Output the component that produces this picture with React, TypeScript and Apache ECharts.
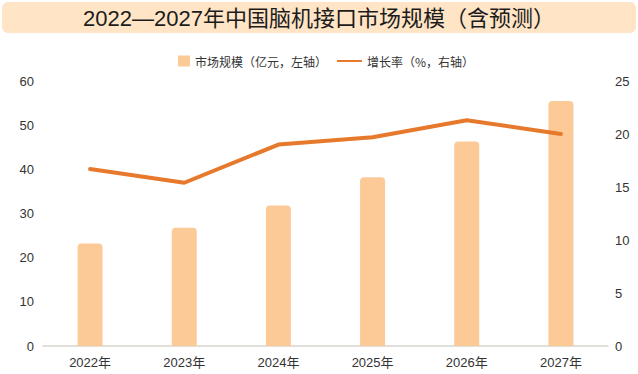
import React, { useEffect, useRef } from 'react';
import * as echarts from 'echarts';

const titleText = '2022—2027年中国脑机接口市场规模（含预测）';
const categories = ['2022年', '2023年', '2024年', '2025年', '2026年', '2027年'];
const seriesBarName = '市场规模（亿元，左轴）';
const seriesLineName = '增长率（%，右轴）';
const marketSize = [23.2, 26.8, 31.8, 38.2, 46.3, 55.5];
const growthRate = [16.7, 15.4, 19.0, 19.7, 21.3, 20.0];
const leftAxis = { min: 0, max: 60, interval: 10 };
const rightAxis = { min: 0, max: 25, interval: 5 };

const FONT = '"Liberation Sans", Arial, "Noto Sans CJK SC", sans-serif';
const CJK = '"Noto Sans CJK SC", "Liberation Sans", sans-serif';
const TITLE_FONT = '"Liberation Sans", "Noto Sans CJK TC", "Noto Sans CJK SC", sans-serif';

export default function App() {
  const ref = useRef<HTMLDivElement>(null);
  useEffect(() => {
    if (!ref.current) return;
    const chart = echarts.init(ref.current, null, { renderer: 'svg' });
    chart.setOption({
      animation: false,
      backgroundColor: '#ffffff',
      textStyle: { fontFamily: FONT },
      graphic: [
        {
          type: 'rect',
          shape: { x: 2, y: 2, width: 634, height: 31, r: 6 },
          style: { fill: '#FFE4C6' },
          z: 0,
        },
        {
          type: 'text',
          x: 319,
          y: 18,
          style: {
            text: titleText,
            fill: '#1c1c1c',
            font: `22px ${TITLE_FONT}`,
            align: 'center',
            verticalAlign: 'middle',
          },
          z: 1,
        },
      ],
      legend: [
        {
          data: [{ name: seriesBarName, icon: 'rect' }],
          left: 173,
          top: 50,
          itemWidth: 12,
          itemHeight: 11,
          itemGap: 5,
          textStyle: { fontSize: 12, color: '#333', fontFamily: CJK },
        },
        {
          data: [{ name: seriesLineName, icon: 'rect' }],
          left: 332,
          top: 50,
          itemWidth: 25,
          itemHeight: 2,
          itemGap: 4,
          textStyle: { fontSize: 12, color: '#333', fontFamily: CJK },
        },
      ],
      grid: { left: 43, right: 30, top: 81, bottom: 28, containLabel: false },
      xAxis: {
        type: 'category',
        data: categories,
        axisLine: { lineStyle: { color: '#D9D3CC', width: 1.5 } },
        axisTick: { show: false },
        axisLabel: { color: '#333', fontSize: 13, margin: 10, fontFamily: FONT },
      },
      yAxis: [
        {
          type: 'value',
          min: leftAxis.min,
          max: leftAxis.max,
          interval: leftAxis.interval,
          axisLine: { show: false },
          axisTick: { show: false },
          splitLine: { show: false },
          axisLabel: { color: '#333', fontSize: 13, margin: 9, fontFamily: FONT },
        },
        {
          type: 'value',
          min: rightAxis.min,
          max: rightAxis.max,
          interval: rightAxis.interval,
          axisLine: { show: false },
          axisTick: { show: false },
          splitLine: { show: false },
          axisLabel: { color: '#333', fontSize: 13, margin: 7, fontFamily: FONT },
        },
      ],
      series: [
        {
          name: seriesBarName,
          type: 'bar',
          data: marketSize,
          barWidth: 25,
          itemStyle: { color: '#FBCA96', borderRadius: [4, 4, 0, 0] },
        },
        {
          name: seriesLineName,
          type: 'line',
          yAxisIndex: 1,
          data: growthRate,
          symbol: 'none',
          showSymbol: false,
          itemStyle: { color: '#E6792C' },
          lineStyle: { color: '#E6792C', width: 4, cap: 'round', join: 'round' },
          z: 3,
        },
      ],
    });
    return () => chart.dispose();
  }, []);
  return (
    <div
      ref={ref}
      style={{ position: 'absolute', left: 0, top: 0, width: 638, height: 374 }}
    />
  );
}
